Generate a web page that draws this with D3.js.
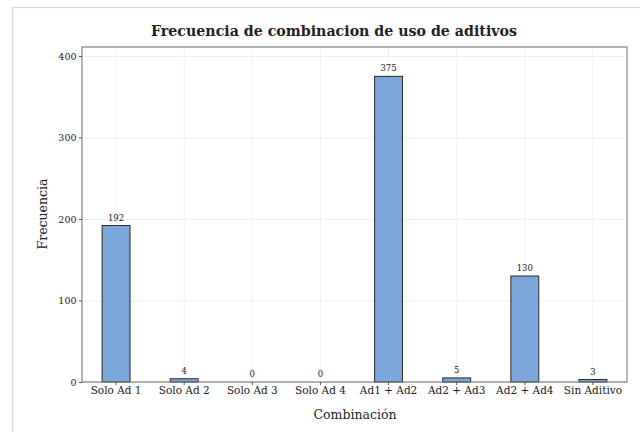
<!DOCTYPE html>
<html><head><meta charset="utf-8">
<script src="https://cdn.jsdelivr.net/npm/d3@7"></script>
<style>body{margin:0;background:#fff}svg{display:block}</style>
</head><body>
<svg id="c" width="640" height="432"></svg>
<script>
const categories = ["Solo Ad 1","Solo Ad 2","Solo Ad 3","Solo Ad 4","Ad1 + Ad2","Ad2 + Ad3","Ad2 + Ad4","Sin Aditivo"];
const values = [192,4,0,0,375,5,130,3];
const yTicks = [0,100,200,300,400];
const title = "Frecuencia de combinacion de uso de aditivos";
const xTitle = "Combinación";
const yTitle = "Frecuencia";

const FONT = "'DejaVu Serif', 'Liberation Serif', serif";
const svg = d3.select("#c");
const m = {left:82, right:627, top:47, bottom:382};
svg.append("rect").attr("x",12.5).attr("y",7.5).attr("width",700).attr("height",500)
  .attr("fill","none").attr("stroke","#d9d9d9").attr("stroke-width",1.2);

const x = d3.scaleBand().domain(categories).range([m.left,m.right]).paddingInner(0).paddingOuter(0);
const y = d3.scaleLinear().domain([0,411]).range([m.bottom,m.top]);

const g = svg.append("g");
g.selectAll(".gy").data(yTicks).join("line")
  .attr("x1",m.left).attr("x2",m.right).attr("y1",d=>y(d)+0.5).attr("y2",d=>y(d)+0.5)
  .attr("stroke","#ececec").attr("stroke-width",0.8);
g.selectAll(".gx").data(categories).join("line")
  .attr("y1",m.top).attr("y2",m.bottom).attr("x1",d=>x(d)+x.bandwidth()/2).attr("x2",d=>x(d)+x.bandwidth()/2)
  .attr("stroke","#ececec").attr("stroke-width",0.8);

const bw = x.bandwidth()*0.41;
g.selectAll(".bar").data(values).join("rect")
  .attr("x",(d,i)=>x(categories[i])+x.bandwidth()/2-bw/2)
  .attr("width",bw)
  .attr("y",d=>y(d))
  .attr("height",d=>y(0)-y(d))
  .attr("fill","#7ba6da").attr("stroke","#2a2a2a").attr("stroke-width",1);

g.selectAll(".vl").data(values).join("text")
  .attr("x",(d,i)=>x(categories[i])+x.bandwidth()/2)
  .attr("y",d=>y(d)-5)
  .attr("text-anchor","middle").style("font-family",FONT).style("font-size","8.5px").attr("fill","#222").text(d=>d);

svg.append("rect").attr("x",m.left).attr("y",m.top).attr("width",m.right-m.left).attr("height",m.bottom-m.top)
  .attr("fill","none").attr("stroke","#777").attr("stroke-width",1.1);

const xa = svg.append("g").attr("transform",`translate(0,${m.bottom})`)
  .call(d3.axisBottom(x).tickSize(3).tickPadding(2));
xa.select(".domain").remove();
xa.selectAll("line").attr("stroke","#555");
xa.selectAll("text").style("font-size","10.5px").attr("fill","#222").style("font-family",FONT);

const ya = svg.append("g").attr("transform",`translate(${m.left},0)`)
  .call(d3.axisLeft(y).tickValues(yTicks).tickSize(3).tickPadding(2.5));
ya.select(".domain").remove();
ya.selectAll("line").attr("stroke","#555");
ya.selectAll("text").style("font-size","9.5px").attr("fill","#222").style("font-family",FONT);

svg.append("text").attr("x",334).attr("y",36).attr("text-anchor","middle").attr("fill","#222")
  .style("font-family",FONT).style("font-size","14.2px").style("font-weight","bold").text(title);
svg.append("text").attr("x",355).attr("y",419).attr("text-anchor","middle").attr("fill","#222")
  .style("font-family",FONT).style("font-size","12.5px").text(xTitle);
svg.append("text").attr("transform","translate(47,214) rotate(-90)").attr("text-anchor","middle").attr("fill","#222")
  .style("font-family",FONT).style("font-size","12.5px").text(yTitle);
</script>
</body></html>
